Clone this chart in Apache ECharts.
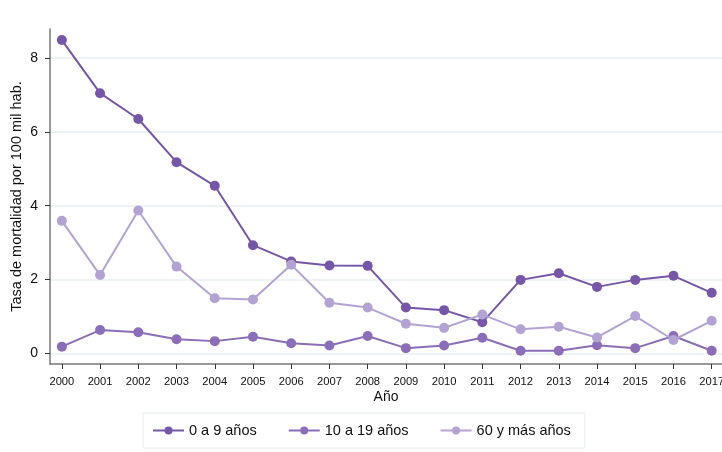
<!DOCTYPE html>
<html><head><meta charset="utf-8">
<script src="https://cdn.jsdelivr.net/npm/echarts@6/dist/echarts.min.js"></script>
<style>html,body{margin:0;padding:0;background:#fff}#c{width:722px;height:452px}</style>
</head><body><div id="c"></div>
<script>
const years = [2000,2001,2002,2003,2004,2005,2006,2007,2008,2009,2010,2011,2012,2013,2014,2015,2016,2017];
const s0a9 = [8.49,7.05,6.35,5.18,4.54,2.93,2.49,2.38,2.37,1.24,1.17,0.84,1.99,2.17,1.80,1.99,2.10,1.64];
const s10a19 = [0.18,0.63,0.57,0.38,0.33,0.45,0.27,0.21,0.47,0.14,0.21,0.42,0.07,0.07,0.22,0.14,0.47,0.07];
const s60 = [3.59,2.12,3.87,2.35,1.49,1.46,2.40,1.37,1.24,0.80,0.69,1.05,0.65,0.72,0.43,1.01,0.36,0.88];
const yTicks = [0,2,4,6,8];
const names = ['0 a 9 años','10 a 19 años','60 y más años'];
const colors = ['#7656a6','#8b6db8','#b3a3d3'];
const FONT = 'Liberation Sans, Arial, sans-serif';
const series = [s0a9, s10a19, s60].map((arr, i) => ({
  name: names[i], type: 'line', data: years.map((y, k) => [y, arr[k]]),
  symbol: 'circle', symbolSize: 10, z: 2 + i,
  lineStyle: {color: colors[i], width: 2}, itemStyle: {color: colors[i]},
  emphasis: {disabled: true}
}));
const chart = echarts.init(document.getElementById('c'), null, {renderer: 'canvas'});
chart.setOption({
  animation: false,
  textStyle: {fontFamily: FONT},
  grid: {left: 50, right: 0, top: 29, bottom: 88, containLabel: false, outerBoundsMode: 'none'},
  xAxis: {
    type: 'value', min: 1999.69, max: 2017.27,
    name: 'Año', nameLocation: 'middle', nameGap: 26, nameMoveOverlap: false,
    nameTextStyle: {fontSize: 14, color: '#111', fontFamily: FONT},
    axisLine: {show: true, onZero: false, lineStyle: {color: '#777', width: 1.5}},
    axisTick: {show: true, customValues: years, length: 5, lineStyle: {color: '#333'}},
    axisLabel: {customValues: years, fontSize: 11.2, color: '#111', margin: 12, fontFamily: FONT, formatter: v => String(v), hideOverlap: false},
    splitLine: {show: false}
  },
  yAxis: {
    type: 'value', min: -0.29, max: 8.79,
    name: 'Tasa de mortalidad por 100 mil hab.', nameLocation: 'middle', nameGap: 26, nameRotate: 90, nameMoveOverlap: false,
    nameTextStyle: {fontSize: 14.5, color: '#111', fontFamily: FONT},
    axisLine: {show: true, onZero: false, lineStyle: {color: '#777', width: 1.5}},
    axisTick: {show: true, customValues: yTicks, length: 5, lineStyle: {color: '#333'}},
    axisLabel: {customValues: yTicks, fontSize: 14, color: '#111', margin: 12, fontFamily: FONT},
    splitLine: {show: true, lineStyle: {color: '#e8f0f2', width: 1.5}}
  },
  legend: {
    left: 143, top: 413, orient: 'horizontal',
    padding: [10, 14, 10, 9], itemGap: 31, itemWidth: 31, itemHeight: 10,
    borderColor: '#e6eef0', borderWidth: 1,
    textStyle: {fontSize: 14.5, color: '#111', fontFamily: FONT},
    data: names
  },
  series: series
});
</script></body></html>
